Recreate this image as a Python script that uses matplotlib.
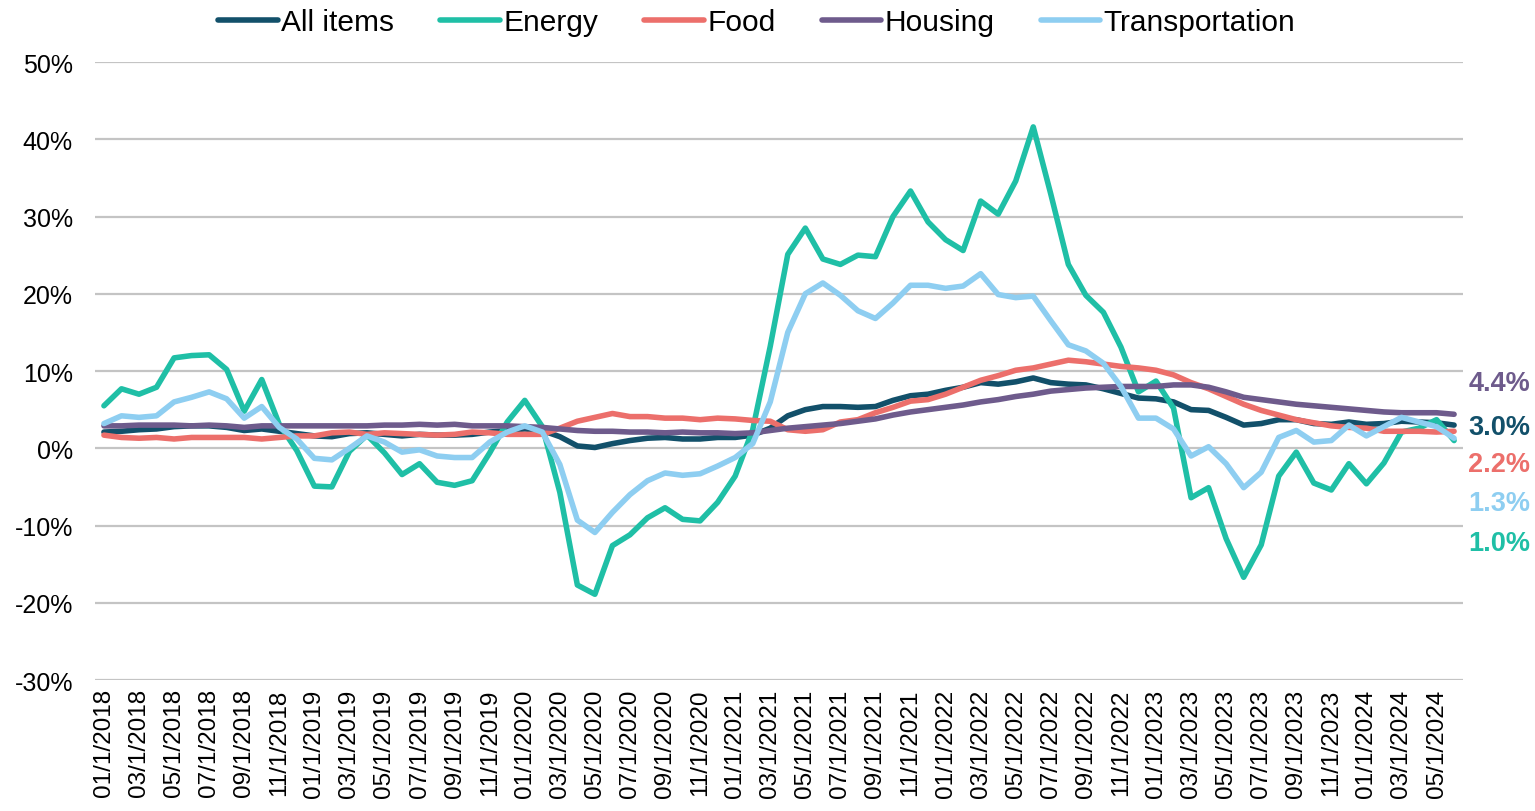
import matplotlib
matplotlib.use("Agg")
import matplotlib.pyplot as plt
import numpy as np
import pandas as pd

plt.rcParams['font.family'] = ['Liberation Sans', 'DejaVu Sans']

# monthly year-over-year change, Jan 2018 - Jun 2024 (%)
months = pd.date_range("2018-01-01", "2024-06-01", freq="MS")

all_items = [2.1, 2.2, 2.4, 2.5, 2.8, 2.9, 2.9, 2.7, 2.3, 2.5, 2.2, 1.9,
             1.6, 1.5, 1.9, 2.0, 1.8, 1.6, 1.8, 1.7, 1.7, 1.8, 2.1, 2.3,
             2.5, 2.3, 1.5, 0.3, 0.1, 0.6, 1.0, 1.3, 1.4, 1.2, 1.2, 1.4,
             1.4, 1.7, 2.6, 4.2, 5.0, 5.4, 5.4, 5.3, 5.4, 6.2, 6.8, 7.0,
             7.5, 7.9, 8.5, 8.3, 8.6, 9.1, 8.5, 8.3, 8.2, 7.7, 7.1, 6.5,
             6.4, 6.0, 5.0, 4.9, 4.0, 3.0, 3.2, 3.7, 3.7, 3.2, 3.1, 3.4,
             3.1, 3.2, 3.5, 3.4, 3.3, 3.0]

energy = [5.5, 7.7, 7.0, 7.9, 11.7, 12.0, 12.1, 10.2, 4.8, 8.9, 3.1, -0.3,
          -4.9, -5.0, -0.4, 1.7, -0.6, -3.4, -2.0, -4.4, -4.8, -4.2, -0.6, 3.4,
          6.2, 2.8, -5.7, -17.7, -18.9, -12.6, -11.2, -9.0, -7.7, -9.2, -9.4, -7.0,
          -3.6, 2.4, 13.2, 25.1, 28.5, 24.5, 23.8, 25.0, 24.8, 30.0, 33.3, 29.3,
          27.0, 25.6, 32.0, 30.3, 34.6, 41.6, 32.9, 23.8, 19.8, 17.6, 13.1, 7.3,
          8.7, 5.2, -6.4, -5.1, -11.7, -16.7, -12.5, -3.6, -0.5, -4.5, -5.4, -2.0,
          -4.6, -1.9, 2.1, 2.6, 3.7, 1.0]

food = [1.7, 1.4, 1.3, 1.4, 1.2, 1.4, 1.4, 1.4, 1.4, 1.2, 1.4, 1.6,
        1.6, 2.0, 2.1, 1.8, 2.0, 1.9, 1.8, 1.7, 1.8, 2.1, 2.0, 1.8,
        1.8, 1.8, 2.6, 3.5, 4.0, 4.5, 4.1, 4.1, 3.9, 3.9, 3.7, 3.9,
        3.8, 3.6, 3.5, 2.4, 2.2, 2.4, 3.4, 3.7, 4.6, 5.3, 6.1, 6.3,
        7.0, 7.9, 8.8, 9.4, 10.1, 10.4, 10.9, 11.4, 11.2, 10.9, 10.6, 10.4,
        10.1, 9.5, 8.5, 7.7, 6.7, 5.7, 4.9, 4.3, 3.7, 3.3, 2.9, 2.7,
        2.6, 2.2, 2.2, 2.2, 2.1, 2.2]

housing = [2.9, 2.9, 3.0, 3.0, 3.0, 2.9, 3.0, 2.9, 2.7, 2.9, 2.9, 2.9,
           2.9, 2.9, 2.9, 2.9, 3.0, 3.0, 3.1, 3.0, 3.1, 2.9, 2.9, 2.9,
           2.8, 2.7, 2.5, 2.3, 2.2, 2.2, 2.1, 2.1, 2.0, 2.1, 2.0, 2.0,
           1.9, 2.0, 2.3, 2.6, 2.8, 3.0, 3.2, 3.5, 3.8, 4.3, 4.7, 5.0,
           5.3, 5.6, 6.0, 6.3, 6.7, 7.0, 7.4, 7.6, 7.8, 7.9, 8.0, 8.0,
           8.0, 8.2, 8.2, 7.9, 7.3, 6.6, 6.3, 6.0, 5.7, 5.5, 5.3, 5.1,
           4.9, 4.7, 4.6, 4.6, 4.6, 4.4]

transportation = [3.2, 4.2, 4.0, 4.2, 6.0, 6.6, 7.3, 6.4, 3.9, 5.4, 2.7, 1.2,
                  -1.3, -1.5, 0.0, 1.6, 0.8, -0.5, -0.2, -1.0, -1.2, -1.2, 0.8, 2.1,
                  2.9, 2.1, -2.1, -9.3, -10.9, -8.3, -6.0, -4.2, -3.2, -3.5, -3.3, -2.3,
                  -1.2, 0.6, 6.0, 15.0, 20.0, 21.4, 19.8, 17.8, 16.8, 18.8, 21.1, 21.1,
                  20.7, 21.0, 22.6, 19.9, 19.5, 19.7, 16.5, 13.4, 12.6, 11.0, 8.0, 3.9,
                  3.9, 2.5, -1.0, 0.2, -2.0, -5.1, -3.1, 1.4, 2.3, 0.8, 1.0, 3.0,
                  1.6, 2.8, 4.0, 3.4, 2.8, 1.3]

names = ["All items", "Energy", "Food", "Housing", "Transportation"]
series = [all_items, energy, food, housing, transportation]
colors = ["#12506A", "#1FBFA6", "#EC6F6B", "#6E5B8C", "#8ECEF1"]

# where the end labels sit (y, in %) so they don't overlap
label_y = {"Housing": 8.4, "All items": 2.7, "Food": -2.1,
           "Transportation": -7.1, "Energy": -12.2}

fig = plt.figure(figsize=(15.35, 8.12), dpi=100)
ax = fig.add_axes([0.062, 0.1613, 0.891, 0.7611])

x = np.arange(len(months))
for name, vals, c in zip(names, series, colors):
    ax.plot(x, vals, color=c, lw=4.0, label=name, solid_capstyle='round')

ax.set_xlim(-0.5, len(months) - 0.5)
ax.set_ylim(-30, 50)
ax.set_yticks(np.arange(-30, 51, 10))
ax.set_yticklabels([f"{v}%" for v in range(-30, 51, 10)])
ax.set_xticks(x[::2])
ax.set_xticklabels([f"{d.month:02d}/1/{d.year}" for d in months[::2]], rotation=90)
ax.tick_params(axis='both', length=0, labelsize=17.5, colors='black')
ax.tick_params(axis='y', labelsize=18, pad=16)
ax.tick_params(axis='x', pad=6)
ax.grid(axis='y', color='#C4C4C4', lw=1.6)
ax.set_axisbelow(True)
for s in ax.spines.values():
    s.set_visible(False)

# end-of-series labels
for name, vals, c in zip(names, series, colors):
    ax.text(1.004, label_y[name], f"{vals[-1]:.1f}%", color=c, fontsize=19.5,
            fontweight='bold', va='center', ha='left',
            transform=ax.get_yaxis_transform())

fig.legend(loc='upper center', bbox_to_anchor=(0.493, 1.022), ncol=5,
           frameon=False, fontsize=21.5, handlelength=2.0, handletextpad=0.1,
           columnspacing=1.55)

fig.savefig("out.png", dpi=100)
